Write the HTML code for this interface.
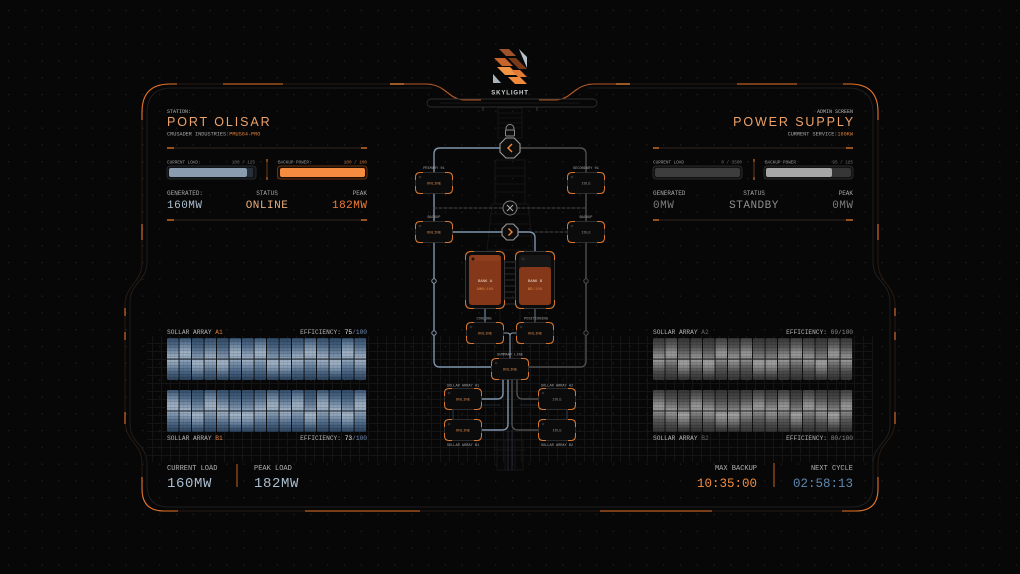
<!DOCTYPE html>
<html><head><meta charset="utf-8"><style>
html,body{margin:0;padding:0;background:#070707;}
svg{display:block;}
text{font-family:"Liberation Mono","DejaVu Sans Mono",monospace;}
.sans{font-family:"Liberation Sans","DejaVu Sans",sans-serif;}
</style></head><body>
<svg width="1020" height="574" viewBox="0 0 1020 574" xmlns="http://www.w3.org/2000/svg">
<defs>
<pattern id="dots" width="16.8" height="16.8" patternUnits="userSpaceOnUse"><rect x="8" y="10" width="1.1" height="1.1" fill="#2a2a2a"/></pattern>
<pattern id="grid" width="9" height="8" patternUnits="userSpaceOnUse"><path d="M8.5 0V8M0 7.5H9" stroke="#171717" stroke-width="0.8" fill="none"/></pattern>
<pattern id="rows" width="4.17" height="3" patternUnits="userSpaceOnUse"><rect y="2.4" width="4.17" height="0.6" fill="#000" opacity="0.2"/><rect x="3.8" width="0.37" height="3" fill="#000" opacity="0.15"/></pattern>
<linearGradient id="gB1" x1="0" y1="0" x2="0" y2="1"><stop offset="0" stop-color="#344d6a"/><stop offset="0.18" stop-color="#4f6a88"/><stop offset="0.38" stop-color="#889db5"/><stop offset="0.5" stop-color="#a4b4c6"/><stop offset="0.62" stop-color="#889db4"/><stop offset="0.82" stop-color="#4a6482"/><stop offset="1" stop-color="#2c425a"/></linearGradient>
<linearGradient id="gB2" x1="0" y1="0" x2="0" y2="1"><stop offset="0" stop-color="#3a5472"/><stop offset="0.15" stop-color="#66809c"/><stop offset="0.35" stop-color="#9fb1c4"/><stop offset="0.5" stop-color="#95a9be"/><stop offset="0.7" stop-color="#5e7997"/><stop offset="0.88" stop-color="#3a5472"/><stop offset="1" stop-color="#2a4058"/></linearGradient>
<linearGradient id="gB3" x1="0" y1="0" x2="0" y2="1"><stop offset="0" stop-color="#304a66"/><stop offset="0.2" stop-color="#46617f"/><stop offset="0.42" stop-color="#7990a9"/><stop offset="0.58" stop-color="#a6b6c8"/><stop offset="0.75" stop-color="#768ea8"/><stop offset="0.9" stop-color="#415b78"/><stop offset="1" stop-color="#2b4159"/></linearGradient>
<linearGradient id="gG1" x1="0" y1="0" x2="0" y2="1"><stop offset="0" stop-color="#383838"/><stop offset="0.2" stop-color="#505050"/><stop offset="0.4" stop-color="#858585"/><stop offset="0.5" stop-color="#9e9e9e"/><stop offset="0.6" stop-color="#868686"/><stop offset="0.8" stop-color="#4d4d4d"/><stop offset="1" stop-color="#333"/></linearGradient>
<linearGradient id="gG2" x1="0" y1="0" x2="0" y2="1"><stop offset="0" stop-color="#404040"/><stop offset="0.18" stop-color="#606060"/><stop offset="0.36" stop-color="#979797"/><stop offset="0.5" stop-color="#929292"/><stop offset="0.7" stop-color="#5a5a5a"/><stop offset="0.88" stop-color="#404040"/><stop offset="1" stop-color="#303030"/></linearGradient>
<linearGradient id="gG3" x1="0" y1="0" x2="0" y2="1"><stop offset="0" stop-color="#353535"/><stop offset="0.22" stop-color="#4a4a4a"/><stop offset="0.44" stop-color="#7a7a7a"/><stop offset="0.58" stop-color="#a4a4a4"/><stop offset="0.76" stop-color="#737373"/><stop offset="0.9" stop-color="#464646"/><stop offset="1" stop-color="#313131"/></linearGradient>
<rect id="cB1" width="11.6" height="42" rx="1.2" fill="url(#gB1)"/>
<rect id="cB2" width="11.6" height="42" rx="1.2" fill="url(#gB2)"/>
<rect id="cB3" width="11.6" height="42" rx="1.2" fill="url(#gB3)"/>
<rect id="cG1" width="11.6" height="42" rx="1.2" fill="url(#gG1)"/>
<rect id="cG2" width="11.6" height="42" rx="1.2" fill="url(#gG2)"/>
<rect id="cG3" width="11.6" height="42" rx="1.2" fill="url(#gG3)"/>
<g id="nd">
 <rect x="0.5" y="0.5" width="37" height="21" rx="5" fill="#0b0b0b" stroke="#3a3a3a" stroke-width="0.8"/>
 <path d="M0.5,8V5Q0.5,0.5 5,0.5H8 M30,0.5H33Q37.5,0.5 37.5,5V8 M37.5,14V17Q37.5,21.5 33,21.5H30 M8,21.5H5Q0.5,21.5 0.5,17V14" fill="none" stroke="#d9772f" stroke-width="1"/>
 <circle cx="5" cy="5" r="1.3" fill="#2c2c2c"/>
</g>
<g id="tk">
 <rect x="0.5" y="0.5" width="39" height="57" rx="6" fill="#0b0b0b" stroke="#3a3a3a" stroke-width="0.9"/>
 <path d="M0.5,9V6Q0.5,0.5 6,0.5H9 M31,0.5H34Q39.5,0.5 39.5,6V9 M39.5,49V52Q39.5,57.5 34,57.5H31 M9,57.5H6Q0.5,57.5 0.5,52V49" fill="none" stroke="#d9772f" stroke-width="1"/>
</g>
</defs>

<rect width="1020" height="574" fill="#070707"/>
<rect width="1020" height="574" fill="url(#dots)"/>

<!-- grid band -->
<rect x="147" y="336" width="726" height="126" fill="url(#grid)"/>

<!-- tower background -->
<g fill="none" stroke="#191919" stroke-width="0.8">
 <rect x="498" y="108" width="24" height="30"/>
 <path d="M498 113H522M498 118H522M498 123H522M498 128H522"/>
 <rect x="495" y="160" width="30" height="44"/>
 <path d="M495 168H525M495 176H525M495 184H525M495 192H525"/>
 <path d="M492 204H528L533 250H487Z"/>
 <path d="M490 214H530M489 224H531M488 236H532"/>
 <path d="M500 250V330M520 250V330"/>
 <rect x="497" y="440" width="26" height="30"/>
 <path d="M505 440V470M515 440V470M494 450H526"/>
</g>
<g stroke="#262626" stroke-width="1.2">
 <path d="M505 262H515M505 268H515M505 274H515M505 280H515M505 286H515M505 292H515M505 298H515M505 304H515"/>
</g>

<!-- frame -->
<path d="M432,88 H172 Q147,88 147,113 V262 C147,282 130,282 130,302 V424 C130,444 147,444 147,464 V485 Q147,507 169,507 H851 Q873,507 873,485 V464 C873,444 890,444 890,424 V302 C890,282 873,282 873,262 V113 Q873,88 848,88 H588" fill="none" stroke="#1e1e1e" stroke-width="1"/>
<path d="M432,84 H170 Q142,84 142,112 V262 C142,284 125,284 125,306 V420 C125,442 142,442 142,464 V489 Q142,511 164,511 H856 Q878,511 878,489 V464 C878,442 895,442 895,420 V306 C895,284 878,284 878,262 V112 Q878,84 850,84 H588" fill="none" stroke="#2a1a10" stroke-width="1"/>
<g fill="none" stroke="#e8752a" stroke-width="1.1">
 <path d="M142,120 V112 Q142,84 170,84 H177"/>
 <path d="M223,84 H283"/>
 <path d="M737,84 H797"/>
 <path d="M843,84 H850 Q878,84 878,112 V120"/>
 <path d="M142,224 V240"/><path d="M878,224 V240"/>
 <path d="M125,308 V316"/><path d="M125,332 V340"/><path d="M125,412 V424"/>
 <path d="M895,308 V316"/><path d="M895,332 V340"/><path d="M895,412 V424"/>
 <path d="M142,477 V489 Q142,511 164,511 H178"/>
 <path d="M305,511 H420"/><path d="M600,511 H712"/>
 <path d="M842,511 H856 Q878,511 878,489 V477"/>
</g>

<!-- wings -->
<path d="M390,84 H426 Q436,84 444,90 L452,96 Q458,100 466,100 H481" fill="none" stroke="#b85a24" stroke-width="1.1"/>
<path d="M630,84 H594 Q584,84 576,90 L568,96 Q562,100 554,100 H539" fill="none" stroke="#b85a24" stroke-width="1.1"/>
<path d="M390,84 H404M616,84H630" stroke="#f48a3a" stroke-width="1.3"/>
<rect x="427" y="99" width="170" height="8" rx="4" fill="none" stroke="#2c2c2c" stroke-width="0.9"/>
<path d="M440 103H580" stroke="#1e1e1e" stroke-width="0.8"/>
<path d="M483 107V111M537 107V111" stroke="#3a3a3a" stroke-width="1"/>

<!-- logo -->
<polygon points="499,49 509,49 516,56 506,56" fill="#a0532a"/>
<polygon points="519,49 527,57 527,68" fill="#b5c0c8"/>
<polygon points="494,58 505,58 513,66 502,66" fill="#c8642a"/>
<polygon points="508,58 516,58 527,69 519,69" fill="#7a3a1a"/>
<polygon points="497,67 510,67 518,75 505,75" fill="#f39443"/>
<polygon points="511,70 520,70 527,77 518,77" fill="#e27a35"/>
<polygon points="493,74 501,83 493,83" fill="#aab4bb"/>
<polygon points="508,77 520,77 527,84 515,84" fill="#f08a3c"/>
<text x="510" y="94.5" text-anchor="middle" class="sans" font-size="6" font-weight="bold" letter-spacing="0.9" fill="#cfd3d6">SKYLIGHT</text>

<!-- LEFT PANEL -->
<text x="167" y="113" font-size="5" fill="#b5b5b5">STATION:</text>
<text x="167" y="126" class="sans" font-size="12.5" letter-spacing="1.9" fill="#eda26a">PORT OLISAR</text>
<text x="167" y="135.5" font-size="5.2" fill="#a9a9a9">CRUSADER INDUSTRIES:<tspan fill="#e0803c">PMUS64-PRO</tspan></text>
<path d="M167 148H367" stroke="#33251c" stroke-width="1"/>
<path d="M167 148H174M361 148H367" stroke="#f07c2c" stroke-width="1.2"/>

<text x="167" y="163.5" font-size="4.3" fill="#9a9a9a">CURRENT LOAD:</text>
<text x="255" y="163.5" font-size="4.3" text-anchor="end" fill="#777">100 / 125</text>
<rect x="167" y="166" width="89" height="13" rx="3" fill="#101215" stroke="#262b30" stroke-width="1"/>
<rect x="169" y="168" width="78" height="9" rx="2" fill="#8a9cb0"/>
<rect x="247" y="168" width="6" height="9" rx="1" fill="#26303a"/>
<path d="M267 159V180" stroke="#6b3814" stroke-width="1"/>
<path d="M267 159V162M267 177V180" stroke="#f07c2c" stroke-width="1"/>
<text x="278" y="163.5" font-size="4.3" fill="#9a9a9a">BACKUP POWER:</text>
<text x="367" y="163.5" font-size="4.3" text-anchor="end" fill="#d0743a">100 / 100</text>
<rect x="277.5" y="166" width="89.5" height="13" rx="3" fill="#1a0d05" stroke="#6a3212" stroke-width="1"/>
<rect x="280" y="168" width="85" height="9" rx="2" fill="#f68c3f"/>

<text x="167" y="195" font-size="6" fill="#a8a8a8">GENERATED:</text>
<text x="267" y="195" font-size="6" text-anchor="middle" fill="#a8a8a8">STATUS</text>
<text x="367" y="195" font-size="6" text-anchor="end" fill="#a8a8a8">PEAK</text>
<text x="167" y="208" font-size="11" letter-spacing="0.5" fill="#aebfd0">160MW</text>
<text x="267" y="208" font-size="11" letter-spacing="0.5" text-anchor="middle" fill="#e6ad80">ONLINE</text>
<text x="367.5" y="208" font-size="11" letter-spacing="0.5" text-anchor="end" fill="#f47c35">182MW</text>
<path d="M167 220H367" stroke="#33251c" stroke-width="1"/>
<path d="M167 220H174M361 220H367" stroke="#f07c2c" stroke-width="1.2"/>

<!-- RIGHT PANEL -->
<text x="853" y="113" font-size="5" text-anchor="end" fill="#b5b5b5">ADMIN SCREEN</text>
<text x="855" y="126" class="sans" font-size="12.5" letter-spacing="1.9" text-anchor="end" fill="#eda26a">POWER SUPPLY</text>
<text x="853" y="135.5" font-size="5.2" text-anchor="end" fill="#a9a9a9">CURRENT SERVICE:<tspan fill="#e0803c">160KW</tspan></text>
<path d="M653 148H853" stroke="#33251c" stroke-width="1"/>
<path d="M653 148H659M846 148H853" stroke="#f07c2c" stroke-width="1.2"/>

<text x="653" y="163.5" font-size="4.3" fill="#9a9a9a">CURRENT LOAD</text>
<text x="742" y="163.5" font-size="4.3" text-anchor="end" fill="#777">0 / 3500</text>
<rect x="653" y="166" width="89" height="13" rx="3" fill="#121212" stroke="#2a2a2a" stroke-width="1"/>
<rect x="655" y="168" width="85" height="9" rx="2" fill="#3d3d3d"/>
<path d="M754 159V180" stroke="#6b3814" stroke-width="1"/>
<path d="M754 159V162M754 177V180" stroke="#f07c2c" stroke-width="1"/>
<text x="765" y="163.5" font-size="4.3" fill="#9a9a9a">BACKUP POWER</text>
<text x="853" y="163.5" font-size="4.3" text-anchor="end" fill="#777">95 / 125</text>
<rect x="764" y="166" width="89" height="13" rx="3" fill="#121212" stroke="#2a2a2a" stroke-width="1"/>
<rect x="766" y="168" width="85" height="9" rx="2" fill="#363636"/>
<rect x="766" y="168" width="66" height="9" rx="2" fill="#a6a6a6"/>

<text x="653" y="195" font-size="6" fill="#a8a8a8">GENERATED</text>
<text x="754" y="195" font-size="6" text-anchor="middle" fill="#a8a8a8">STATUS</text>
<text x="853" y="195" font-size="6" text-anchor="end" fill="#a8a8a8">PEAK</text>
<text x="653" y="208" font-size="11" letter-spacing="0.5" fill="#7c7c7c">0MW</text>
<text x="754" y="208" font-size="11" letter-spacing="0.5" text-anchor="middle" fill="#8e8e8e">STANDBY</text>
<text x="853.5" y="208" font-size="11" letter-spacing="0.5" text-anchor="end" fill="#7c7c7c">0MW</text>
<path d="M653 220H853" stroke="#33251c" stroke-width="1"/>
<path d="M653 220H659M846 220H853" stroke="#f07c2c" stroke-width="1.2"/>

<!-- SOLAR LEFT -->
<text x="167" y="334" font-size="6.2" fill="#b5b5b5">SOLLAR ARRAY <tspan fill="#e0803c">A1</tspan></text>
<text x="367" y="334" font-size="6.2" text-anchor="end" fill="#b5b5b5">EFFICIENCY: <tspan fill="#e6e6e6">75</tspan><tspan fill="#6f8fb5">/100</tspan></text>
<g>
<use href="#cB1" x="167" y="338"/><use href="#cB2" x="179.5" y="338"/><use href="#cB3" x="192" y="338"/><use href="#cB1" x="204.5" y="338"/>
<use href="#cB3" x="217" y="338"/><use href="#cB2" x="229.5" y="338"/><use href="#cB1" x="242" y="338"/><use href="#cB2" x="254.5" y="338"/>
<use href="#cB3" x="267" y="338"/><use href="#cB3" x="279.5" y="338"/><use href="#cB1" x="292" y="338"/><use href="#cB2" x="304.5" y="338"/>
<use href="#cB1" x="317" y="338"/><use href="#cB3" x="329.5" y="338"/><use href="#cB2" x="342" y="338"/><use href="#cB1" x="354.5" y="338"/>
<use href="#cB2" x="167" y="390"/><use href="#cB1" x="179.5" y="390"/><use href="#cB3" x="192" y="390"/><use href="#cB2" x="204.5" y="390"/>
<use href="#cB1" x="217" y="390"/><use href="#cB3" x="229.5" y="390"/><use href="#cB3" x="242" y="390"/><use href="#cB1" x="254.5" y="390"/>
<use href="#cB2" x="267" y="390"/><use href="#cB1" x="279.5" y="390"/><use href="#cB2" x="292" y="390"/><use href="#cB3" x="304.5" y="390"/>
<use href="#cB2" x="317" y="390"/><use href="#cB1" x="329.5" y="390"/><use href="#cB3" x="342" y="390"/><use href="#cB2" x="354.5" y="390"/>
<rect x="167" y="338" width="200" height="42" fill="url(#rows)"/>
<rect x="167" y="390" width="200" height="42" fill="url(#rows)"/>
<path d="M167 359H367M167 411H367" stroke="#141b23" stroke-width="1"/>
</g>
<text x="167" y="440" font-size="6.2" fill="#b5b5b5">SOLLAR ARRAY <tspan fill="#e0803c">B1</tspan></text>
<text x="367" y="440" font-size="6.2" text-anchor="end" fill="#b5b5b5">EFFICIENCY: <tspan fill="#e6e6e6">73</tspan><tspan fill="#6f8fb5">/100</tspan></text>

<!-- SOLAR RIGHT -->
<text x="653" y="334" font-size="6.2" fill="#b5b5b5">SOLLAR ARRAY <tspan fill="#666">A2</tspan></text>
<text x="853" y="334" font-size="6.2" text-anchor="end" fill="#b5b5b5">EFFICIENCY: <tspan fill="#8a8a8a">69/100</tspan></text>
<g>
<use href="#cG1" x="653" y="338"/><use href="#cG2" x="665.5" y="338"/><use href="#cG3" x="678" y="338"/><use href="#cG1" x="690.5" y="338"/>
<use href="#cG3" x="703" y="338"/><use href="#cG2" x="715.5" y="338"/><use href="#cG1" x="728" y="338"/><use href="#cG2" x="740.5" y="338"/>
<use href="#cG3" x="753" y="338"/><use href="#cG3" x="765.5" y="338"/><use href="#cG1" x="778" y="338"/><use href="#cG2" x="790.5" y="338"/>
<use href="#cG1" x="803" y="338"/><use href="#cG3" x="815.5" y="338"/><use href="#cG2" x="828" y="338"/><use href="#cG1" x="840.5" y="338"/>
<use href="#cG2" x="653" y="390"/><use href="#cG1" x="665.5" y="390"/><use href="#cG3" x="678" y="390"/><use href="#cG2" x="690.5" y="390"/>
<use href="#cG1" x="703" y="390"/><use href="#cG3" x="715.5" y="390"/><use href="#cG3" x="728" y="390"/><use href="#cG1" x="740.5" y="390"/>
<use href="#cG2" x="753" y="390"/><use href="#cG1" x="765.5" y="390"/><use href="#cG2" x="778" y="390"/><use href="#cG3" x="790.5" y="390"/>
<use href="#cG2" x="803" y="390"/><use href="#cG1" x="815.5" y="390"/><use href="#cG3" x="828" y="390"/><use href="#cG2" x="840.5" y="390"/>
<rect x="653" y="338" width="200" height="42" fill="url(#rows)"/>
<rect x="653" y="390" width="200" height="42" fill="url(#rows)"/>
<path d="M653 359H853M653 411H853" stroke="#1a1a1a" stroke-width="1"/>
</g>
<text x="653" y="440" font-size="6.2" fill="#b5b5b5">SOLLAR ARRAY <tspan fill="#666">B2</tspan></text>
<text x="853" y="440" font-size="6.2" text-anchor="end" fill="#b5b5b5">EFFICIENCY: <tspan fill="#8a8a8a">80/100</tspan></text>

<!-- BOTTOM -->
<text x="167" y="470" font-size="7" fill="#b0b0b0">CURRENT LOAD</text>
<text x="167" y="487" font-size="14" letter-spacing="0.6" fill="#a9bcd0">160MW</text>
<path d="M237 464V487" stroke="#c0601f" stroke-width="1"/>
<text x="254" y="470" font-size="7" fill="#b0b0b0">PEAK LOAD</text>
<text x="254" y="487" font-size="14" letter-spacing="0.6" fill="#a9bcd0">182MW</text>
<text x="757" y="470" font-size="7" text-anchor="end" fill="#b0b0b0">MAX BACKUP</text>
<text x="757" y="487" font-size="12.5" text-anchor="end" fill="#f28b3f">10:35:00</text>
<path d="M774 463V487" stroke="#c0601f" stroke-width="1"/>
<text x="853" y="470" font-size="7" text-anchor="end" fill="#b0b0b0">NEXT CYCLE</text>
<text x="853" y="487" font-size="12.5" text-anchor="end" fill="#5f86b0">02:58:13</text>

<!-- CENTER DIAGRAM LINES -->
<g fill="none" stroke-width="1.4" stroke-linecap="round">
 <path d="M500,148 H440 Q434,148 434,154 V172" stroke="#7f95ad"/>
 <path d="M434,194 V221" stroke="#7f95ad"/>
 <path d="M434,243 V361 Q434,367 440,367 H492" stroke="#7f95ad"/>
 <path d="M453,232 H502" stroke="#7f95ad"/>
 <path d="M518,232 H529 Q535,232 535,238 V251" stroke="#7f95ad"/>
 <path d="M520,148 H580 Q586,148 586,154 V172" stroke="#4f4f4f"/>
 <path d="M586,194 V221" stroke="#4f4f4f"/>
 <path d="M586,243 V361 Q586,367 580,367 H529" stroke="#4f4f4f"/>
 <path d="M535,232 H567" stroke="#4a4a4a" stroke-width="1" stroke-dasharray="3 2"/>
 <path d="M434,208 H503 M517,208 H586" stroke="#4a4a4a" stroke-width="1" stroke-dasharray="3 2"/>
 <path d="M485,309 V322" stroke="#5a7491"/>
 <path d="M535,309 V322" stroke="#4a5868"/>
 <path d="M504,333 H507 Q510,333 510,336 M516,333 H513 Q510,333 510,336 M510,336 V358" stroke="#8a9bb0" stroke-width="1.1"/>
 <path d="M503,380 V393 Q503,399 497,399 H482" stroke="#7f95ad"/>
 <path d="M508,380 V424 Q508,430 502,430 H482" stroke="#7f95ad"/>
 <path d="M517,380 V393 Q517,399 523,399 H538" stroke="#4f4f4f"/>
 <path d="M512,380 V424 Q512,430 518,430 H538" stroke="#4f4f4f"/>
 <path d="M453,410 V419 M567,410 V419" stroke="#2b3a4a" stroke-width="1"/>
 <path d="M482,405 H500 M538,405 H520" stroke="#233040" stroke-width="0.8"/>
 <path d="M508,430 V470 M512,430 V470" stroke="#2a3440" stroke-width="0.8"/>
</g>
<g fill="#0a0a0a" stroke-width="1">
 <circle cx="434" cy="281" r="2.2" stroke="#7f95ad"/>
 <circle cx="434" cy="333" r="2.2" stroke="#7f95ad"/>
 <circle cx="586" cy="281" r="2.2" stroke="#4f4f4f"/>
 <circle cx="586" cy="333" r="2.2" stroke="#4f4f4f"/>
</g>

<!-- tanks -->
<use href="#tk" x="465" y="251"/>
<use href="#tk" x="515" y="251"/>
<rect x="469" y="255" width="32" height="50" rx="3" fill="#853819"/>
<rect x="519" y="255" width="32" height="50" rx="3" fill="#161616"/>
<rect x="519" y="267" width="32" height="38" rx="3" fill="#853819"/>
<rect x="469" y="255" width="32" height="6" rx="3" fill="#8e3e1c"/>
<circle cx="473" cy="259" r="1.5" fill="#2a1208"/>
<circle cx="523" cy="259" r="1.5" fill="#2a2a2a"/>
<text x="485" y="282" font-size="4" text-anchor="middle" fill="#e6d5c8">BANK A</text>
<text x="485" y="290" font-size="4" text-anchor="middle" fill="#d07a45"><tspan fill="#f59a52">100</tspan>/100</text>
<text x="535" y="282" font-size="4" text-anchor="middle" fill="#e6d5c8">BANK B</text>
<text x="535" y="290" font-size="4" text-anchor="middle" fill="#d07a45"><tspan fill="#f59a52">95</tspan>/100</text>

<!-- nodes -->
<use href="#nd" x="415" y="172"/>
<use href="#nd" x="567" y="172"/>
<use href="#nd" x="415" y="221"/>
<use href="#nd" x="567" y="221"/>
<use href="#nd" x="466" y="322"/>
<use href="#nd" x="516" y="322"/>
<use href="#nd" x="491" y="358"/>
<use href="#nd" x="444" y="388"/>
<use href="#nd" x="444" y="419"/>
<use href="#nd" x="538" y="388"/>
<use href="#nd" x="538" y="419"/>
<g font-size="4" text-anchor="middle">
 <text x="434" y="184.5" fill="#d98a4e">ONLINE</text>
 <text x="586" y="184.5" fill="#8a8a8a">IDLE</text>
 <text x="434" y="233.5" fill="#d98a4e">ONLINE</text>
 <text x="586" y="233.5" fill="#8a8a8a">IDLE</text>
 <text x="485" y="334.5" fill="#d98a4e">ONLINE</text>
 <text x="535" y="334.5" fill="#d98a4e">ONLINE</text>
 <text x="510" y="370.5" fill="#d98a4e">ONLINE</text>
 <text x="463" y="400.5" fill="#d98a4e">ONLINE</text>
 <text x="463" y="431.5" fill="#d98a4e">ONLINE</text>
 <text x="557" y="400.5" fill="#8a8a8a">IDLE</text>
 <text x="557" y="431.5" fill="#8a8a8a">IDLE</text>
</g>
<g font-size="3.6" text-anchor="middle" fill="#a5a5a5">
 <text x="434" y="169">PRIMARY 01</text>
 <text x="586" y="169">SECONDARY 01</text>
 <text x="434" y="218">BACKUP</text>
 <text x="586" y="218">BACKUP</text>
 <text x="484" y="319.5">COOLING</text>
 <text x="536" y="319.5">POSITIONING</text>
 <text x="510" y="355.5">SUMMARY LINE</text>
 <text x="463" y="386.5">SOLLAR ARRAY A1</text>
 <text x="557" y="386.5">SOLLAR ARRAY A2</text>
 <text x="463" y="446">SOLLAR ARRAY B1</text>
 <text x="557" y="446">SOLLAR ARRAY B2</text>
</g>

<!-- octagon controls -->
<path d="M506,130 V128.5 A4,4 0 0 1 514,128.5 V130" fill="none" stroke="#8a8a8a" stroke-width="1"/>
<rect x="505.5" y="130" width="9" height="6" rx="1" fill="#0c0c0c" stroke="#8a8a8a" stroke-width="1"/>
<path d="M505.9,138 L514.1,138 L520,143.9 L520,152.1 L514.1,158 L505.9,158 L500,152.1 L500,143.9 Z" fill="#0c0c0c" stroke="#9a9a9a" stroke-width="1.1"/>
<path d="M512,144 L508,148 L512,152" fill="none" stroke="#f08a40" stroke-width="1.4"/>
<circle cx="510" cy="208" r="7" fill="#0c0c0c" stroke="#7a7a7a" stroke-width="1"/>
<path d="M507,205 L513,211 M513,205 L507,211" stroke="#b0b0b0" stroke-width="1.1"/>
<path d="M506.7,224 L513.3,224 L518,228.7 L518,235.3 L513.3,240 L506.7,240 L502,235.3 L502,228.7 Z" fill="#0c0c0c" stroke="#9a9a9a" stroke-width="1.1"/>
<path d="M508.5,228.5 L512,232 L508.5,235.5" fill="none" stroke="#f08a40" stroke-width="1.4"/>
</svg>
</body></html>
